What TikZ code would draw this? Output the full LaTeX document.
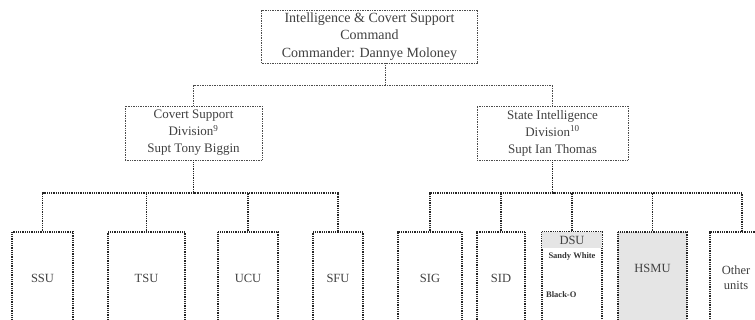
\documentclass[tikz,border=0pt]{standalone}
\usepackage{fontspec}
\setmainfont{Liberation Serif}
\begin{document}
\begin{tikzpicture}[x=1pt,y=-1pt,
  headbox/.style={draw=black!70, line width=0.7pt, dash pattern=on 0.7pt off 1pt,
    rectangle, inner sep=0pt, align=center, text=black!75},
  unitbox/.style={draw=black!85, line width=1.1pt, dash pattern=on 1pt off 0.8pt,
    rectangle, inner sep=0pt, align=center, minimum height=92pt, text=black!75},
  link/.style={draw=black!70, line width=0.8pt, dash pattern=on 0.8pt off 0.9pt},
  buslink/.style={draw=black!85, line width=1.1pt, dash pattern=on 1pt off 0.8pt},
  lbl/.style={text=black!75, inner sep=0pt, align=center, font=\fontsize{12.5}{15}\selectfont},
  small/.style={text=black!80, inner sep=0pt, font=\fontsize{8.5}{9}\selectfont\bfseries}]
\useasboundingbox (0,0) rectangle (755,320);
\clip (0,0) rectangle (755,320);

% command and divisions
\node[headbox, minimum width=216pt, minimum height=53pt,
      font=\fontsize{14}{17.5}\selectfont] (cmd) at (369.5,36.5)
  {Intelligence \& Covert Support\\Command\\Commander: Dannye Moloney};
\node[headbox, minimum width=137pt, minimum height=54pt,
      font=\fontsize{13}{17}\selectfont] (csd) at (193.5,133)
  {Covert Support\\Division\textsuperscript{9}\\Supt Tony Biggin};
\node[headbox, minimum width=151pt, minimum height=54pt,
      font=\fontsize{13}{17}\selectfont] (sid) at (552.5,133)
  {State Intelligence\\Division\textsuperscript{10}\\Supt Ian Thomas};

% units under Covert Support Division
\node[unitbox, minimum width=61pt] (ssu) at (42.5,278) {};
\node[unitbox, minimum width=77pt] (tsu) at (146.5,278) {};
\node[unitbox, minimum width=60pt] (ucu) at (248,278) {};
\node[unitbox, minimum width=50pt] (sfu) at (338,278) {};
\node[lbl] (ssut) at (ssu.center) {SSU};
\node[lbl] (tsut) at (tsu.center) {TSU};
\node[lbl] (ucut) at (ucu.center) {UCU};
\node[lbl] (sfut) at (sfu.center) {SFU};

% units under State Intelligence Division
\node[unitbox, minimum width=64pt] (sig) at (430,278) {};
\node[unitbox, minimum width=48pt] (sidu) at (501,278) {};
\node[unitbox, minimum width=60pt] (dsu) at (572,278) {};
\node[unitbox, minimum width=69pt, fill=black!10] (hsmu) at (652.5,278) {};
\node[unitbox, minimum width=64pt] (oth) at (742,278) {};
\fill[black!10] ([xshift=0.6pt,yshift=-0.6pt]dsu.north west) rectangle ([xshift=-0.6pt]dsu.north east |- 0,248);
\node[lbl] (sigt) at (sig.center) {SIG};
\node[lbl] (sidt) at (sidu.center) {SID};
\node[lbl] (dsut) at (572,240) {DSU};
\node[small] (dsua) at (572,256) {Sandy White};
\node[small, anchor=west] (dsub) at (546,295) {Black-O};
\node[lbl] (hsmut) at (652.5,268) {HSMU};
\node[lbl, anchor=center] (otht) at (736,278) {Other\\units};

% connectors
\coordinate (j0) at (385,85);
\coordinate (j1) at (193.5,193);
\coordinate (j2) at (552.5,193);
\draw[link] (j0 |- cmd.south) -- (j0);
\draw[link] (csd.north) |- (j0) -| (sid.north);
\draw[buslink] (csd.south) -- (j1);
\draw[buslink] (ssu.north) |- (j1) -| (sfu.north);
\draw[buslink] (tsu.north) -- (tsu.north |- j1);
\draw[buslink] (ucu.north) -- (ucu.north |- j1);
\draw[buslink] (sid.south) -- (j2);
\draw[buslink] (sig.north) |- (j2) -| (oth.north);
\draw[buslink] (sidu.north) -- (sidu.north |- j2);
\draw[buslink] (dsu.north) -- (dsu.north |- j2);
\draw[buslink] (hsmu.north) -- (hsmu.north |- j2);
\end{tikzpicture}
\end{document}
